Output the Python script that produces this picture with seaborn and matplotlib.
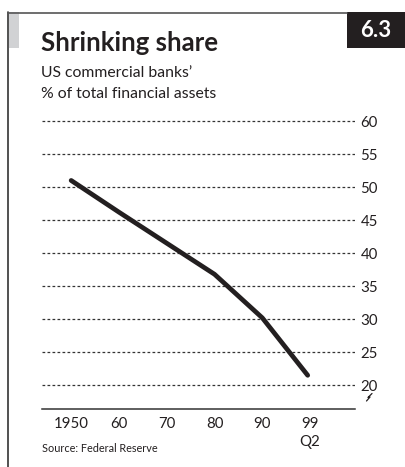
import matplotlib
matplotlib.use("Agg")
import matplotlib.pyplot as plt
from matplotlib.lines import Line2D
from matplotlib.patches import Rectangle
import seaborn as sns
import pandas as pd

# ---- data ----
years = [1950, 1960, 1970, 1980, 1990, 1999.5]
share = [51.0, 46.2, 41.5, 36.8, 30.2, 21.5]
tick_pos = [1950, 1960, 1970, 1980, 1990, 2000]
tick_labels = ["1950", "60", "70", "80", "90", "99\nQ2"]
y_ticks = [20, 25, 30, 35, 40, 45, 50, 55, 60]

title = "Shrinking share"
subtitle1 = "US commercial banks\u2019"
subtitle2 = "% of total financial assets"
source = "Source: Federal Reserve"
chart_no = "6.3"

df = pd.DataFrame({"year": years, "share": share})

sns.set_style("white")
plt.rcParams["font.family"] = ["Lato", "DejaVu Sans"]

W, H = 406, 467
fig = plt.figure(figsize=(W / 100, H / 100), dpi=100)

def fx(px):
    return px / W

def fy(py):
    return 1 - py / H

ax = fig.add_axes([fx(42), fy(409), fx(355) - fx(42), fy(114.4) - fy(409)])

sns.lineplot(data=df, x="year", y="share", ax=ax, color="#231f20",
             linewidth=3.4, solid_capstyle="round", solid_joinstyle="round",
             zorder=3)

ax.set_xlim(1943.9, 2009.4)
ax.set_ylim(16.4, 61)
ax.set_xlabel("")
ax.set_ylabel("")

for v in y_ticks:
    ax.axhline(v, color="#333333", linewidth=0.9, linestyle=(0, (2.2, 1.8)),
               zorder=1)

ax.set_yticks(y_ticks)
ax.set_yticklabels([str(v) for v in y_ticks])
ax.yaxis.tick_right()
ax.tick_params(axis="y", length=0, pad=4, labelsize=10.8, labelcolor="#231f20")

ax.set_xticks(tick_pos)
ax.set_xticklabels(tick_labels, linespacing=1.35)
ax.tick_params(axis="x", direction="in", length=5.5, width=0.9, color="#333333",
               pad=6, labelsize=10.8, labelcolor="#231f20")

for s in ["top", "right", "left"]:
    ax.spines[s].set_visible(False)
ax.spines["bottom"].set_color("#333333")
ax.spines["bottom"].set_linewidth(1.1)

# break mark under the 20 label
fig.add_artist(Line2D([fx(366.5), fx(370), fx(368), fx(372)],
                      [fy(401), fy(397), fy(397.5), fy(393.5)],
                      color="#231f20", linewidth=0.9))

# frame
fig.add_artist(Line2D([fx(8.5), fx(8.5)], [fy(12), 0], color="#333333", linewidth=1.2))
fig.add_artist(Line2D([fx(8.5), fx(347)], [fy(12.5), fy(12.5)], color="#555555", linewidth=1.2))
fig.add_artist(Rectangle((fx(9), fy(48)), fx(10), fy(12) - fy(48),
                         facecolor="#d1d2d4", edgecolor="none"))
fig.add_artist(Rectangle((fx(347), fy(48)), fx(406) - fx(347), fy(12) - fy(48),
                         facecolor="#231f20", edgecolor="none"))
fig.text(fx(376), fy(30.5), chart_no, color="white", fontsize=16, fontweight="bold",
         ha="center", va="center")

fig.text(fx(41), fy(51), title, fontsize=18.5, fontweight="bold", color="#231f20",
         ha="left", va="baseline")
fig.text(fx(41), fy(77), subtitle1, fontsize=11.3, color="#231f20",
         ha="left", va="baseline")
fig.text(fx(41), fy(98), subtitle2, fontsize=11.3, color="#231f20",
         ha="left", va="baseline")
fig.text(fx(42), fy(452), source, fontsize=7.8, color="#231f20",
         ha="left", va="baseline")

fig.savefig("out.png", dpi=100)
